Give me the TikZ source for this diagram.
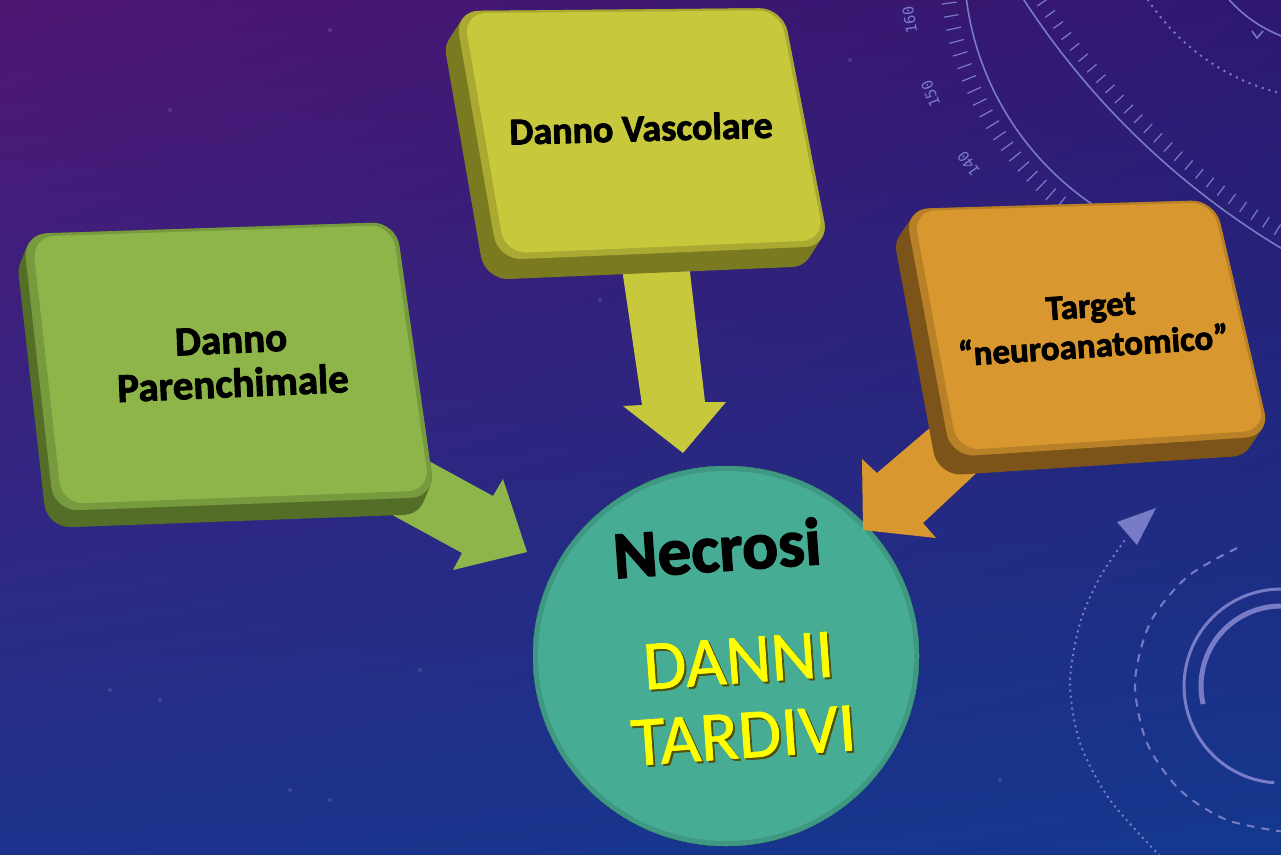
\documentclass[tikz,border=0pt]{standalone}
\usepackage{fontspec}
\setmainfont{Carlito}[BoldFeatures={FakeBold=2.2}]
\newfontfamily\yfont{Carlito}[FakeBold=1.0]
\newfontfamily\gaugefont{DejaVu Sans Mono}
\usetikzlibrary{calc,shadings}
\definecolor{bgTL}{RGB}{80,22,116}
\definecolor{bgTR}{RGB}{46,24,112}
\definecolor{bgBL}{RGB}{28,50,140}
\definecolor{bgBR}{RGB}{20,56,142}
\definecolor{grn}{RGB}{141,181,74}
\definecolor{grnS}{RGB}{84,110,40}
\definecolor{yel}{RGB}{200,200,60}
\definecolor{yelS}{RGB}{122,122,32}
\definecolor{org}{RGB}{217,152,47}
\definecolor{orgS}{RGB}{124,84,26}
\definecolor{tealF}{RGB}{70,173,148}
\definecolor{tealS}{RGB}{44,118,98}
\definecolor{deco}{RGB}{120,124,198}
\definecolor{yelTxt}{RGB}{255,255,0}
\definecolor{yelSh}{RGB}{80,80,10}
\tikzset{
  lbl/.style={text=black, align=center, inner sep=0pt},
  decoline/.style={draw=deco, line width=1.6pt},
  gaugenum/.style={text=deco, font=\gaugefont\fontsize{15}{15}\selectfont, inner sep=0pt},
}
% #1-#4 corners, #5 dx, #6 dy, #7 side colour, #8 face colour, #9 centre
\newcommand\slab[9]{%
  \foreach \k in {0,1,...,20}{%
    \fill[#7, rounded corners=24pt, shift={({#5*\k/20},{#6*\k/20})}] #1 -- #2 -- #3 -- #4 -- cycle;}
  \fill[#8!85!black, rounded corners=24pt] #1 -- #2 -- #3 -- #4 -- cycle;
  \fill[#8, rounded corners=22pt, shift={(2,-2)}, scale around={0.965:#9}] #1 -- #2 -- #3 -- #4 -- cycle;
}
\begin{document}
\begin{tikzpicture}[x=1pt,y=-1pt]
\useasboundingbox (0,0) rectangle (1281,854);
\clip (0,0) rectangle (1281,854);
\shade[upper left=bgTL, upper right=bgTR, lower left=bgBL, lower right=bgBR] (0,0) rectangle (1281,854);
\foreach \p in {(170,110),(330,30),(600,300),(95,440),(160,700),(290,790),(420,670),(1000,780),(880,760),(1150,420),(520,180),(850,60),(110,690),(330,800)}
  \fill[white, opacity=0.12] \p circle (2pt);

% gauge, top right
\draw[decoline] plot[domain=185:258, samples=60] ({1257+293*cos(\x)},{-38-293*sin(\x)});
\foreach \a in {178,180.4,...,252}
  \draw[deco, line width=1.2pt] ({1257+303*cos(\a)},{-38-303*sin(\a)}) -- ({1257+318*cos(\a)},{-38-318*sin(\a)});
\node[gaugenum, rotate=99.5] (n160) at ({1257+352*cos(189.5)},{-38-352*sin(189.5)}) {160};
\node[gaugenum, rotate=112] (n150) at ({1257+352*cos(202)},{-38-352*sin(202)}) {150};
\node[gaugenum, rotate=125] (n140) at ({1257+352*cos(215)},{-38-352*sin(215)}) {140};
\draw[decoline] plot[domain=208:242, samples=60] ({1694+800*cos(\x)},{-437-800*sin(\x)});
\foreach \a in {211,212,...,239}
  \draw[deco, line width=1.2pt] ({1694+780*cos(\a)},{-437-780*sin(\a)}) -- ({1694+792*cos(\a)},{-437-792*sin(\a)});
\draw[deco, line width=2pt, dash pattern=on 2pt off 5pt] plot[domain=210:262, samples=50] ({1335+225*cos(\x)},{-125-225*sin(\x)});
\draw[decoline] plot[domain=215:262, samples=40] ({1330+135*cos(\x)},{-90-135*sin(\x)});
\draw[deco, line width=3pt] plot[domain=250:275, samples=20] ({1330+110*cos(\x)},{-90-110*sin(\x)});
\draw[deco, line width=1.5pt] (1252,31) -- (1257,38) -- (1263,31);

% decorations, bottom right
\draw[deco, line width=2pt, dash pattern=on 2pt off 4pt] plot[smooth] coordinates {(1160,856) (1110,800) (1080,743) (1070,683) (1080,623) (1100,577) (1125,540)};
\fill[deco] (1117,522) -- (1156,508) -- (1137,545) -- cycle;
\draw[deco, line width=2pt, dash pattern=on 8pt off 7pt] plot[smooth] coordinates {(1237,548) (1187,577) (1150,623) (1135,683) (1147,743) (1180,790) (1227,820) (1285,832)};
\draw[deco, line width=3pt] plot[domain=88:266, samples=50] ({1281+97*cos(\x)},{686-97*sin(\x)});
\draw[deco, line width=5pt] plot[domain=88:193, samples=40] ({1281+80*cos(\x)},{686-80*sin(\x)});

% central disc
\coordinate (cc) at (726,656);
\foreach \k in {0,1,...,20}
  \fill[tealS, shift={({-8*\k/20},{17*\k/20})}] (cc) ellipse [x radius=193pt, y radius=190pt];
\fill[tealF!88!black] (cc) ellipse [x radius=193pt, y radius=190pt];
\fill[tealF, shift={(2,-2)}] (cc) ellipse [x radius=188pt, y radius=185pt];

% block arrows
\coordinate (g1) at (405,448); \coordinate (g2) at (493,496); \coordinate (g3) at (503,479);
\coordinate (g4) at (527,552); \coordinate (g5) at (453,570); \coordinate (g6) at (462,553);
\coordinate (g7) at (374,505);
\fill[grn] (g1) -- (g2) -- (g3) -- (g4) -- (g5) -- (g6) -- (g7) -- cycle;
\coordinate (y1) at (620,255); \coordinate (y2) at (642,405); \coordinate (y3) at (623,406);
\coordinate (y4) at (683,453); \coordinate (y5) at (726,402); \coordinate (y6) at (705,402);
\coordinate (y7) at (688,255);
\fill[yel] (y1) -- (y2) -- (y3) -- (y4) -- (y5) -- (y6) -- (y7) -- cycle;
\coordinate (o1) at (945,415); \coordinate (o2) at (877,473); \coordinate (o3) at (862,459);
\coordinate (o4) at (863,530); \coordinate (o5) at (936,538); \coordinate (o6) at (923,523);
\coordinate (o7) at (985,465);
\fill[org] (o1) -- (o2) -- (o3) -- (o4) -- (o5) -- (o6) -- (o7) -- cycle;

% slabs
\slab{(23,234)}{(396,222)}{(435,497)}{(54,511)}{-7}{17}{grnS}{grn}{(227,366)}
\slab{(455,11)}{(783,8)}{(829,246)}{(498,260)}{-13}{20}{yelS}{yel}{(641,131)}
\slab{(905,209)}{(1215,200)}{(1270,436)}{(951,457)}{-13}{19}{orgS}{org}{(1085,325)}

% labels
\node[lbl, rotate=2.5, font=\bfseries\fontsize{41}{44}\selectfont] (par) at (232,362) {Danno\\Parenchimale};
\node[lbl, rotate=1.5, font=\bfseries\fontsize{38}{44}\selectfont] (vasc) at (641,128) {Danno Vascolare};
\node[lbl, rotate=3.8, font=\bfseries\fontsize{35}{40}\selectfont] (targ) at (1092,326) {Target\\“neuroanatomico”};
\node[lbl, rotate=4, font=\bfseries\fontsize{67}{72}\selectfont] (necr) at (717,548) {Necrosi};
\node[lbl, rotate=4, text=yelSh, font=\yfont\fontsize{70}{75}\selectfont] at (743,700) {DANNI\\TARDIVI};
\node[lbl, rotate=4, text=yelTxt, font=\yfont\fontsize{70}{75}\selectfont] (tard) at (741,698) {DANNI\\TARDIVI};
\end{tikzpicture}
\end{document}
